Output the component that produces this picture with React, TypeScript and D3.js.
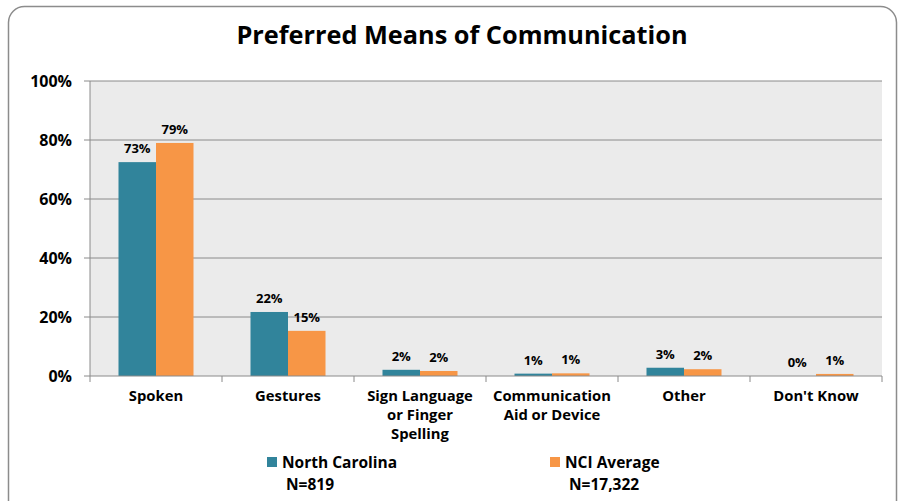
import { useEffect, useRef } from 'react';
import * as d3 from 'd3';

const categories = [
  ['Spoken'],
  ['Gestures'],
  ['Sign Language', 'or Finger', 'Spelling'],
  ['Communication', 'Aid or Device'],
  ['Other'],
  ["Don't Know"],
];
const ncValues = [72.5, 21.7, 2.1, 0.8, 2.8, 0];
const nciValues = [79, 15.3, 1.7, 0.9, 2.3, 0.7];
const ncLabels = ['73%', '22%', '2%', '1%', '3%', '0%'];
const nciLabels = ['79%', '15%', '2%', '1%', '2%', '1%'];
const yTicks = [0, 20, 40, 60, 80, 100];

const NC = '#31849B';
const NCI = '#F79646';
const FONT = "'Open Sans', 'DejaVu Sans', sans-serif";

export default function App() {
  const svgRef = useRef<SVGSVGElement>(null);

  useEffect(() => {
    const svg = d3.select(svgRef.current);
    svg.selectAll('*').remove();
    const W = 905, H = 501;
    const left = 90, right = 882, top = 81, bottom = 376;

    // outer frame
    svg.append('rect').attr('x', 8.5).attr('y', 6.5).attr('width', 888).attr('height', 520)
      .attr('rx', 16).attr('fill', '#fff').attr('stroke', '#8c8c8c').attr('stroke-width', 1.5);

    svg.append('text').attr('x', 462).attr('y', 44).attr('text-anchor', 'middle')
      .attr('font-family', FONT).attr('font-weight', 700).attr('font-size', 25.3).attr('fill', '#000')
      .text('Preferred Means of Communication');

    const x = d3.scaleBand<number>().domain(d3.range(categories.length)).range([left, right]);
    const inner = d3.scaleBand<number>().domain([0, 1]).range([0, 75]);
    const y = d3.scaleLinear().domain([0, 100]).range([bottom, top]);

    svg.append('rect').attr('x', left).attr('y', top).attr('width', right - left).attr('height', bottom - top)
      .attr('fill', '#ebebeb');

    yTicks.forEach(t => {
      if (t > 0) {
        svg.append('line').attr('x1', left).attr('x2', right).attr('y1', y(t)).attr('y2', y(t))
          .attr('stroke', '#8a8a8a').attr('stroke-width', 1);
      }
      svg.append('line').attr('x1', left - 6).attr('x2', left).attr('y1', y(t)).attr('y2', y(t))
        .attr('stroke', '#8a8a8a');
      svg.append('text').attr('x', 72).attr('y', y(t) + 5.5).attr('text-anchor', 'end')
        .attr('font-family', FONT).attr('font-weight', 700).attr('font-size', 16).attr('fill', '#000')
        .text(`${t}%`);
    });

    const series = [
      { values: ncValues, labels: ncLabels, color: NC },
      { values: nciValues, labels: nciLabels, color: NCI },
    ];

    categories.forEach((lines, i) => {
      const gx = x(i)! + (x.bandwidth() - 75) / 2;
      series.forEach((s, j) => {
        const bx = gx + inner(j)!;
        const v = s.values[i];
        svg.append('rect').attr('x', bx).attr('y', y(v)).attr('width', inner.bandwidth())
          .attr('height', bottom - y(v)).attr('fill', s.color);
        svg.append('text').attr('x', bx + inner.bandwidth() / 2).attr('y', y(v) - 9)
          .attr('text-anchor', 'middle').attr('font-family', FONT).attr('font-weight', 700)
          .attr('font-size', 13).attr('fill', '#000').text(s.labels[i]);
      });
      const t = svg.append('text').attr('text-anchor', 'middle').attr('font-family', FONT)
        .attr('font-weight', 700).attr('font-size', 14.8).attr('fill', '#000');
      lines.forEach((l, k) => {
        t.append('tspan').attr('x', x(i)! + x.bandwidth() / 2).attr('y', 401 + k * 19).text(l);
      });
    });

    // axes
    svg.append('line').attr('x1', left).attr('x2', left).attr('y1', top).attr('y2', bottom)
      .attr('stroke', '#8a8a8a');
    svg.append('line').attr('x1', left).attr('x2', right).attr('y1', bottom).attr('y2', bottom)
      .attr('stroke', '#8a8a8a');
    d3.range(categories.length + 1).forEach(i => {
      const tx = left + i * x.bandwidth();
      svg.append('line').attr('x1', tx).attr('x2', tx).attr('y1', bottom).attr('y2', bottom + 6)
        .attr('stroke', '#8a8a8a');
    });

    // legend
    const legend = [
      { name: 'North Carolina', n: 'N=819', color: NC, lx: 267 },
      { name: 'NCI Average', n: 'N=17,322', color: NCI, lx: 550 },
    ];
    legend.forEach(l => {
      svg.append('rect').attr('x', l.lx).attr('y', 457).attr('width', 10).attr('height', 10).attr('fill', l.color);
      svg.append('text').attr('x', l.lx + 15).attr('y', 468).attr('font-family', FONT).attr('font-weight', 700)
        .attr('font-size', 15.5).attr('fill', '#000').text(l.name);
      svg.append('text').attr('x', l.lx + 19).attr('y', 490).attr('font-family', FONT).attr('font-weight', 700)
        .attr('font-size', 15.5).attr('fill', '#000').text(l.n);
    });

    svg.attr('viewBox', `0 0 ${W} ${H}`);
  }, []);

  return (
    <svg ref={svgRef} width={905} height={501}
      style={{ position: 'absolute', left: 0, top: 0, display: 'block' }} />
  );
}
